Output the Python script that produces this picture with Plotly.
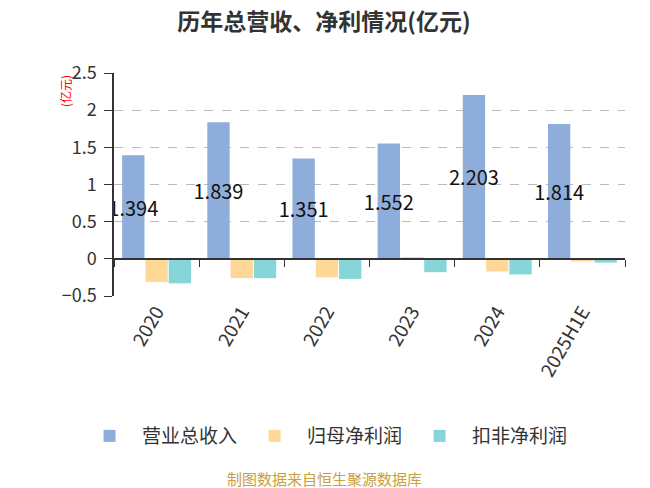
import plotly.graph_objects as go

years = ["2020", "2021", "2022", "2023", "2024", "2025H1E"]
revenue = [1.394, 1.839, 1.351, 1.552, 2.203, 1.814]
net_profit = [-0.31, -0.26, -0.25, 0.02, -0.17, -0.035]
net_profit_ex = [-0.33, -0.26, -0.27, -0.18, -0.21, -0.05]

names = ["营业总收入", "归母净利润", "扣非净利润"]
colors = ["#8eaddb", "#ffd898", "#86d5d8"]

font = "Noto Sans CJK SC, Noto Sans, sans-serif"

fig = go.Figure()
fig.add_trace(go.Bar(
    x=years, y=revenue, name=names[0], marker_color=colors[0],
    marker_line_width=0,
    text=[f"{v:.3f}" for v in revenue], textposition="inside",
    insidetextanchor="middle", constraintext="none", textangle=0,
    textfont=dict(size=20, color="#111111"),
))
fig.add_trace(go.Bar(x=years, y=net_profit, name=names[1],
                     marker_color=colors[1], marker_line_width=0))
fig.add_trace(go.Bar(x=years, y=net_profit_ex, name=names[2],
                     marker_color=colors[2], marker_line_width=0))
# helper trace so the zero-line axis has its categories
fig.add_trace(go.Scatter(x=years, y=[0] * len(years), xaxis="x2",
                         mode="markers", marker_opacity=0,
                         hoverinfo="skip", showlegend=False))

ymin, ymax = -0.5, 2.5
# page body adds ~8px offset, margins are shifted to compensate
fig.update_layout(
    width=650, height=488,
    margin=dict(l=106, r=33, t=65, b=200),
    paper_bgcolor="white", plot_bgcolor="white",
    font=dict(family=font, color="#333333"),
    barmode="group", bargap=0.18, bargroupgap=0.04,
    title=dict(text="<b>历年总营收、净利情况(亿元)</b>", x=0.486, xanchor="center",
               y=0.972, yanchor="middle", font=dict(size=23, color="#333333")),
    xaxis=dict(type="category", showline=False, ticks="", showgrid=False,
               tickangle=-60, tickfont=dict(size=19, color="#333333")),
    xaxis2=dict(type="category", overlaying="x", matches="x", anchor="free",
                position=(0 - ymin) / (ymax - ymin),
                showline=True, linecolor="#333333", linewidth=1.5,
                ticks="outside", ticklen=7, tickcolor="#333333",
                tickson="boundaries", showticklabels=False, showgrid=False),
    yaxis=dict(range=[ymin, ymax], dtick=0.5, showline=True,
               linecolor="#333333", linewidth=1.5, ticks="outside",
               ticklen=8, tickcolor="#333333", showgrid=True,
               gridcolor="#bbbbbb", griddash="dash", gridwidth=1.2,
               zeroline=False, tickformat="~g", ticklabelstandoff=4,
               tickfont=dict(size=18, color="#333333")),
    legend=dict(orientation="h", x=0.413, xanchor="center", y=-0.628,
                yanchor="middle", font=dict(size=19, color="#333333"),
                itemwidth=55),
    annotations=[
        dict(text="(亿元)", xref="paper", yref="paper", x=-0.096, y=1.0,
             xanchor="center", yanchor="top", textangle=-90, showarrow=False,
             font=dict(size=12, color="#ff0000")),
        dict(text="制图数据来自恒生聚源数据库", xref="paper", yref="paper",
             x=0.412, y=-0.82, xanchor="center", yanchor="middle",
             showarrow=False, font=dict(size=15, color="#c9a03c")),
    ],
)

fig.write_html("out.html")
